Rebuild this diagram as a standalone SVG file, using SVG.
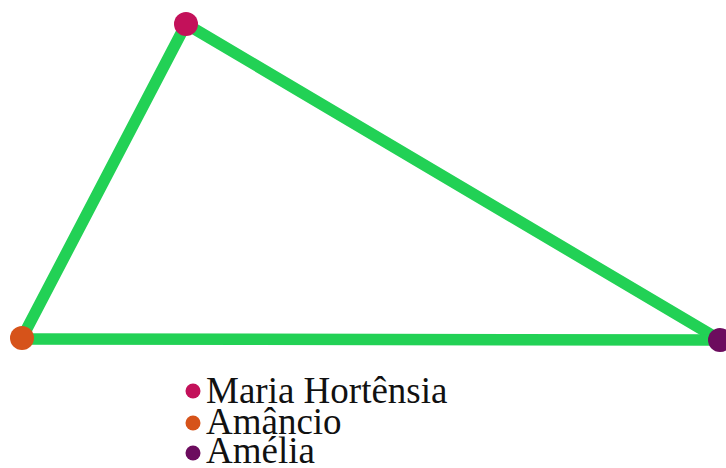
<svg xmlns="http://www.w3.org/2000/svg" width="726" height="468" viewBox="0 0 726 468">
<style>
.edge{stroke:#22d155;stroke-width:11.5;stroke-linecap:round;fill:none}
.lbl{font-family:"Liberation Serif","Times New Roman",serif;font-size:37px;fill:#111}
</style>
<rect width="726" height="468" fill="#fff"/>
<g id="connectors">
<line class="edge" x1="186" y1="24" x2="22" y2="338"/>
<line class="edge" x1="186" y1="24" x2="720" y2="340"/>
<line class="edge" x1="22" y1="339" x2="720" y2="340"/>
</g>
<g id="maria"><circle cx="186" cy="24" r="12" fill="#c3115a"/></g>
<g id="amancio"><circle cx="22" cy="338" r="12" fill="#d6531a"/></g>
<g id="amelia"><circle cx="720" cy="340" r="12" fill="#6c0c5e"/></g>
<g id="legend">
<circle cx="193" cy="391" r="7.5" fill="#c3115a"/>
<text class="lbl" x="206" y="403">Maria Hortênsia</text>
<circle cx="193" cy="423" r="7.5" fill="#d6531a"/>
<text class="lbl" x="206" y="434">Amâncio</text>
<circle cx="193" cy="453" r="7.5" fill="#6c0c5e"/>
<text class="lbl" x="206" y="463">Amélia</text>
</g>
</svg>
